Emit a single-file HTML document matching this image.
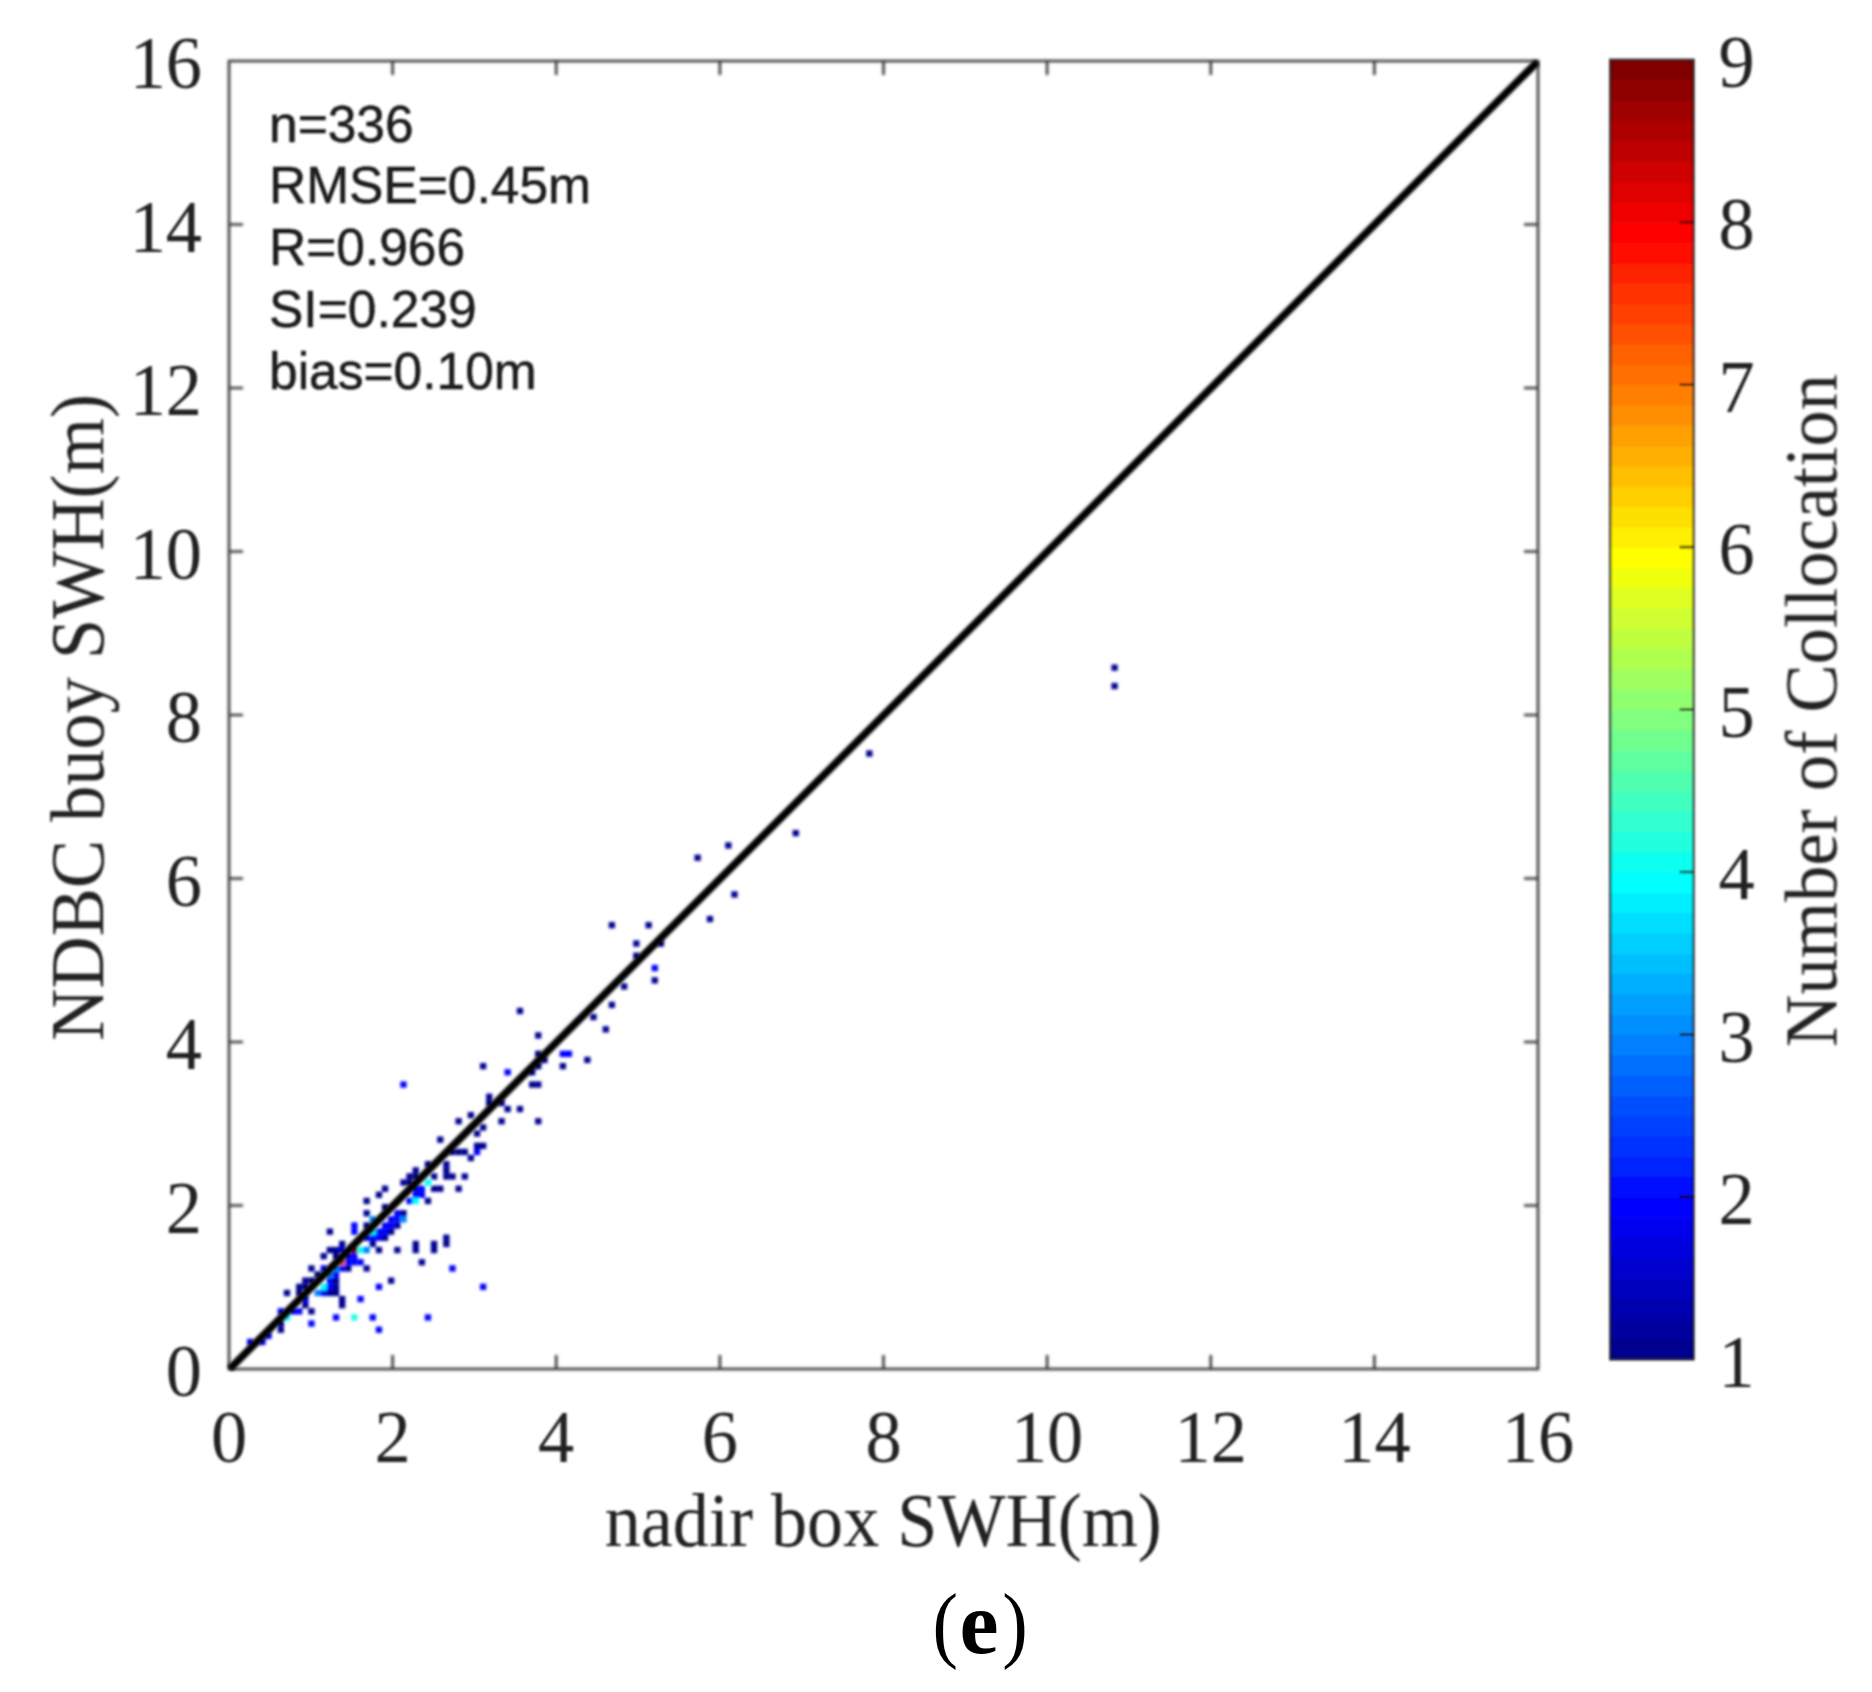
<!DOCTYPE html><html><head><meta charset="utf-8"><title>Figure (e)</title>
<style>html,body{margin:0;padding:0;background:#fff}svg{display:block}.t{font-family:"Liberation Serif","Times New Roman",serif;fill:#222}.s{font-family:"Liberation Sans",Arial,sans-serif;fill:#1a1a1a}</style></head><body>
<svg width="1872" height="1692" viewBox="0 0 1872 1692">
<rect width="1872" height="1692" fill="#fff"/>
<g id="fig">
<g id="pts" filter="url(#pblur)">
<rect x="247.0" y="1338.8" width="6.3" height="6.3" fill="#0000ff"/>
<rect x="259.3" y="1338.8" width="6.3" height="6.3" fill="#0000ff"/>
<rect x="265.4" y="1332.7" width="6.3" height="6.3" fill="#0000ff"/>
<rect x="277.7" y="1326.6" width="6.3" height="6.3" fill="#00008f"/>
<rect x="277.7" y="1320.4" width="6.3" height="6.3" fill="#00008f"/>
<rect x="277.7" y="1308.2" width="6.3" height="6.3" fill="#0000ff"/>
<rect x="283.8" y="1314.3" width="6.3" height="6.3" fill="#00ffff"/>
<rect x="283.8" y="1289.8" width="6.3" height="6.3" fill="#00008f"/>
<rect x="290.0" y="1308.2" width="6.3" height="6.3" fill="#0000ff"/>
<rect x="296.1" y="1308.2" width="6.3" height="6.3" fill="#0000ff"/>
<rect x="296.1" y="1289.8" width="6.3" height="6.3" fill="#00008f"/>
<rect x="296.1" y="1283.7" width="6.3" height="6.3" fill="#00008f"/>
<rect x="302.2" y="1302.0" width="6.3" height="6.3" fill="#00008f"/>
<rect x="302.2" y="1295.9" width="6.3" height="6.3" fill="#0000ff"/>
<rect x="302.2" y="1283.7" width="6.3" height="6.3" fill="#00008f"/>
<rect x="302.2" y="1277.5" width="6.3" height="6.3" fill="#00008f"/>
<rect x="308.3" y="1320.4" width="6.3" height="6.3" fill="#0000ff"/>
<rect x="308.3" y="1308.2" width="6.3" height="6.3" fill="#00008f"/>
<rect x="308.3" y="1277.5" width="6.3" height="6.3" fill="#00008f"/>
<rect x="308.3" y="1265.3" width="6.3" height="6.3" fill="#00008f"/>
<rect x="314.5" y="1289.8" width="6.3" height="6.3" fill="#0080ff"/>
<rect x="314.5" y="1271.4" width="6.3" height="6.3" fill="#00008f"/>
<rect x="320.6" y="1289.8" width="6.3" height="6.3" fill="#0000ff"/>
<rect x="320.6" y="1283.7" width="6.3" height="6.3" fill="#00ffff"/>
<rect x="320.6" y="1265.3" width="6.3" height="6.3" fill="#0000ff"/>
<rect x="320.6" y="1253.0" width="6.3" height="6.3" fill="#00008f"/>
<rect x="326.7" y="1289.8" width="6.3" height="6.3" fill="#00008f"/>
<rect x="326.7" y="1283.7" width="6.3" height="6.3" fill="#0000ff"/>
<rect x="326.7" y="1277.5" width="6.3" height="6.3" fill="#0000ff"/>
<rect x="326.7" y="1271.4" width="6.3" height="6.3" fill="#0080ff"/>
<rect x="326.7" y="1246.9" width="6.3" height="6.3" fill="#00008f"/>
<rect x="326.7" y="1228.5" width="6.3" height="6.3" fill="#00008f"/>
<rect x="332.9" y="1314.3" width="6.3" height="6.3" fill="#0000ff"/>
<rect x="332.9" y="1289.8" width="6.3" height="6.3" fill="#00008f"/>
<rect x="332.9" y="1283.7" width="6.3" height="6.3" fill="#00008f"/>
<rect x="332.9" y="1277.5" width="6.3" height="6.3" fill="#00008f"/>
<rect x="332.9" y="1271.4" width="6.3" height="6.3" fill="#0000ff"/>
<rect x="332.9" y="1265.3" width="6.3" height="6.3" fill="#0080ff"/>
<rect x="332.9" y="1253.0" width="6.3" height="6.3" fill="#00008f"/>
<rect x="332.9" y="1246.9" width="6.3" height="6.3" fill="#00008f"/>
<rect x="339.0" y="1302.0" width="6.3" height="6.3" fill="#00008f"/>
<rect x="339.0" y="1295.9" width="6.3" height="6.3" fill="#00008f"/>
<rect x="339.0" y="1265.3" width="6.3" height="6.3" fill="#0000ff"/>
<rect x="339.0" y="1259.1" width="6.3" height="6.3" fill="#e86000"/>
<rect x="339.0" y="1246.9" width="6.3" height="6.3" fill="#0000ff"/>
<rect x="339.0" y="1240.8" width="6.3" height="6.3" fill="#00008f"/>
<rect x="345.1" y="1265.3" width="6.3" height="6.3" fill="#00008f"/>
<rect x="345.1" y="1259.1" width="6.3" height="6.3" fill="#0000ff"/>
<rect x="345.1" y="1253.0" width="6.3" height="6.3" fill="#0000ff"/>
<rect x="351.2" y="1314.3" width="6.3" height="6.3" fill="#20ffdf"/>
<rect x="351.2" y="1259.1" width="6.3" height="6.3" fill="#0000ff"/>
<rect x="351.2" y="1253.0" width="6.3" height="6.3" fill="#0000ff"/>
<rect x="351.2" y="1246.9" width="6.3" height="6.3" fill="#800000"/>
<rect x="351.2" y="1228.5" width="6.3" height="6.3" fill="#0000ff"/>
<rect x="351.2" y="1222.4" width="6.3" height="6.3" fill="#0000ff"/>
<rect x="357.4" y="1295.9" width="6.3" height="6.3" fill="#0000ff"/>
<rect x="357.4" y="1259.1" width="6.3" height="6.3" fill="#0000ff"/>
<rect x="357.4" y="1246.9" width="6.3" height="6.3" fill="#00ffff"/>
<rect x="363.5" y="1265.3" width="6.3" height="6.3" fill="#00008f"/>
<rect x="363.5" y="1246.9" width="6.3" height="6.3" fill="#0080ff"/>
<rect x="363.5" y="1234.6" width="6.3" height="6.3" fill="#0000ff"/>
<rect x="363.5" y="1222.4" width="6.3" height="6.3" fill="#00008f"/>
<rect x="363.5" y="1210.1" width="6.3" height="6.3" fill="#00008f"/>
<rect x="363.5" y="1197.8" width="6.3" height="6.3" fill="#00008f"/>
<rect x="369.6" y="1314.3" width="6.3" height="6.3" fill="#0000ff"/>
<rect x="369.6" y="1240.8" width="6.3" height="6.3" fill="#00008f"/>
<rect x="369.6" y="1234.6" width="6.3" height="6.3" fill="#0000ff"/>
<rect x="369.6" y="1228.5" width="6.3" height="6.3" fill="#00ffff"/>
<rect x="369.6" y="1216.2" width="6.3" height="6.3" fill="#0080ff"/>
<rect x="375.8" y="1326.6" width="6.3" height="6.3" fill="#0000ff"/>
<rect x="375.8" y="1283.7" width="6.3" height="6.3" fill="#0000ff"/>
<rect x="375.8" y="1246.9" width="6.3" height="6.3" fill="#00008f"/>
<rect x="375.8" y="1234.6" width="6.3" height="6.3" fill="#0000ff"/>
<rect x="375.8" y="1228.5" width="6.3" height="6.3" fill="#0000ff"/>
<rect x="375.8" y="1191.7" width="6.3" height="6.3" fill="#00008f"/>
<rect x="381.9" y="1234.6" width="6.3" height="6.3" fill="#00008f"/>
<rect x="381.9" y="1228.5" width="6.3" height="6.3" fill="#0000ff"/>
<rect x="381.9" y="1222.4" width="6.3" height="6.3" fill="#0000ff"/>
<rect x="381.9" y="1204.0" width="6.3" height="6.3" fill="#00008f"/>
<rect x="381.9" y="1185.6" width="6.3" height="6.3" fill="#00008f"/>
<rect x="388.0" y="1277.5" width="6.3" height="6.3" fill="#00008f"/>
<rect x="388.0" y="1228.5" width="6.3" height="6.3" fill="#00008f"/>
<rect x="388.0" y="1222.4" width="6.3" height="6.3" fill="#0000ff"/>
<rect x="388.0" y="1216.2" width="6.3" height="6.3" fill="#0000ff"/>
<rect x="394.2" y="1246.9" width="6.3" height="6.3" fill="#00008f"/>
<rect x="394.2" y="1222.4" width="6.3" height="6.3" fill="#00008f"/>
<rect x="394.2" y="1216.2" width="6.3" height="6.3" fill="#0000ff"/>
<rect x="394.2" y="1210.1" width="6.3" height="6.3" fill="#0000ff"/>
<rect x="400.3" y="1216.2" width="6.3" height="6.3" fill="#0080ff"/>
<rect x="400.3" y="1210.1" width="6.3" height="6.3" fill="#00008f"/>
<rect x="400.3" y="1179.4" width="6.3" height="6.3" fill="#00008f"/>
<rect x="400.3" y="1081.4" width="6.3" height="6.3" fill="#0000ff"/>
<rect x="406.4" y="1197.8" width="6.3" height="6.3" fill="#0000ff"/>
<rect x="406.4" y="1179.4" width="6.3" height="6.3" fill="#00008f"/>
<rect x="406.4" y="1173.3" width="6.3" height="6.3" fill="#00008f"/>
<rect x="412.6" y="1246.9" width="6.3" height="6.3" fill="#00008f"/>
<rect x="412.6" y="1240.8" width="6.3" height="6.3" fill="#00008f"/>
<rect x="412.6" y="1197.8" width="6.3" height="6.3" fill="#00ffff"/>
<rect x="412.6" y="1191.7" width="6.3" height="6.3" fill="#0000ff"/>
<rect x="412.6" y="1185.6" width="6.3" height="6.3" fill="#0000ff"/>
<rect x="412.6" y="1173.3" width="6.3" height="6.3" fill="#00008f"/>
<rect x="412.6" y="1167.2" width="6.3" height="6.3" fill="#00008f"/>
<rect x="418.7" y="1259.1" width="6.3" height="6.3" fill="#00008f"/>
<rect x="418.7" y="1191.7" width="6.3" height="6.3" fill="#0000ff"/>
<rect x="418.7" y="1185.6" width="6.3" height="6.3" fill="#0000ff"/>
<rect x="424.8" y="1314.3" width="6.3" height="6.3" fill="#0000ff"/>
<rect x="424.8" y="1197.8" width="6.3" height="6.3" fill="#00008f"/>
<rect x="424.8" y="1179.4" width="6.3" height="6.3" fill="#00ffff"/>
<rect x="424.8" y="1161.1" width="6.3" height="6.3" fill="#00008f"/>
<rect x="430.9" y="1246.9" width="6.3" height="6.3" fill="#00008f"/>
<rect x="430.9" y="1240.8" width="6.3" height="6.3" fill="#00008f"/>
<rect x="430.9" y="1185.6" width="6.3" height="6.3" fill="#00008f"/>
<rect x="430.9" y="1173.3" width="6.3" height="6.3" fill="#00008f"/>
<rect x="437.1" y="1185.6" width="6.3" height="6.3" fill="#00008f"/>
<rect x="437.1" y="1136.5" width="6.3" height="6.3" fill="#00008f"/>
<rect x="443.2" y="1240.8" width="6.3" height="6.3" fill="#00008f"/>
<rect x="443.2" y="1234.6" width="6.3" height="6.3" fill="#00008f"/>
<rect x="443.2" y="1173.3" width="6.3" height="6.3" fill="#00008f"/>
<rect x="443.2" y="1167.2" width="6.3" height="6.3" fill="#00008f"/>
<rect x="443.2" y="1161.1" width="6.3" height="6.3" fill="#00008f"/>
<rect x="449.3" y="1265.3" width="6.3" height="6.3" fill="#0000ff"/>
<rect x="449.3" y="1173.3" width="6.3" height="6.3" fill="#00008f"/>
<rect x="449.3" y="1148.8" width="6.3" height="6.3" fill="#00008f"/>
<rect x="455.5" y="1185.6" width="6.3" height="6.3" fill="#00008f"/>
<rect x="455.5" y="1148.8" width="6.3" height="6.3" fill="#00008f"/>
<rect x="455.5" y="1118.1" width="6.3" height="6.3" fill="#00008f"/>
<rect x="461.6" y="1173.3" width="6.3" height="6.3" fill="#00008f"/>
<rect x="461.6" y="1148.8" width="6.3" height="6.3" fill="#00008f"/>
<rect x="467.7" y="1154.9" width="6.3" height="6.3" fill="#00008f"/>
<rect x="467.7" y="1112.0" width="6.3" height="6.3" fill="#00008f"/>
<rect x="473.9" y="1148.8" width="6.3" height="6.3" fill="#0000ff"/>
<rect x="473.9" y="1142.7" width="6.3" height="6.3" fill="#00008f"/>
<rect x="473.9" y="1130.4" width="6.3" height="6.3" fill="#00008f"/>
<rect x="480.0" y="1283.7" width="6.3" height="6.3" fill="#0000ff"/>
<rect x="480.0" y="1142.7" width="6.3" height="6.3" fill="#00008f"/>
<rect x="480.0" y="1124.3" width="6.3" height="6.3" fill="#00008f"/>
<rect x="480.0" y="1063.0" width="6.3" height="6.3" fill="#00008f"/>
<rect x="486.1" y="1099.8" width="6.3" height="6.3" fill="#00008f"/>
<rect x="486.1" y="1093.6" width="6.3" height="6.3" fill="#00008f"/>
<rect x="498.4" y="1118.1" width="6.3" height="6.3" fill="#00008f"/>
<rect x="498.4" y="1099.8" width="6.3" height="6.3" fill="#00008f"/>
<rect x="504.5" y="1105.9" width="6.3" height="6.3" fill="#00008f"/>
<rect x="504.5" y="1069.1" width="6.3" height="6.3" fill="#0000ff"/>
<rect x="516.8" y="1105.9" width="6.3" height="6.3" fill="#00008f"/>
<rect x="516.8" y="1007.8" width="6.3" height="6.3" fill="#00008f"/>
<rect x="529.0" y="1081.4" width="6.3" height="6.3" fill="#00008f"/>
<rect x="529.0" y="1069.1" width="6.3" height="6.3" fill="#00008f"/>
<rect x="535.1" y="1118.1" width="6.3" height="6.3" fill="#00008f"/>
<rect x="535.1" y="1081.4" width="6.3" height="6.3" fill="#00008f"/>
<rect x="535.1" y="1063.0" width="6.3" height="6.3" fill="#00008f"/>
<rect x="535.1" y="1050.7" width="6.3" height="6.3" fill="#00008f"/>
<rect x="535.1" y="1032.3" width="6.3" height="6.3" fill="#00008f"/>
<rect x="541.3" y="1056.8" width="6.3" height="6.3" fill="#00008f"/>
<rect x="559.7" y="1063.0" width="6.3" height="6.3" fill="#00008f"/>
<rect x="559.7" y="1050.7" width="6.3" height="6.3" fill="#0000ff"/>
<rect x="565.8" y="1050.7" width="6.3" height="6.3" fill="#0000ff"/>
<rect x="584.2" y="1056.8" width="6.3" height="6.3" fill="#00008f"/>
<rect x="590.3" y="1013.9" width="6.3" height="6.3" fill="#00008f"/>
<rect x="602.6" y="1026.2" width="6.3" height="6.3" fill="#00008f"/>
<rect x="608.7" y="1001.7" width="6.3" height="6.3" fill="#00008f"/>
<rect x="608.7" y="922.0" width="6.3" height="6.3" fill="#00008f"/>
<rect x="621.0" y="983.3" width="6.3" height="6.3" fill="#00008f"/>
<rect x="633.2" y="952.6" width="6.3" height="6.3" fill="#00008f"/>
<rect x="633.2" y="940.4" width="6.3" height="6.3" fill="#00008f"/>
<rect x="645.5" y="922.0" width="6.3" height="6.3" fill="#00008f"/>
<rect x="651.6" y="977.2" width="6.3" height="6.3" fill="#00008f"/>
<rect x="651.6" y="964.9" width="6.3" height="6.3" fill="#0000ff"/>
<rect x="657.8" y="940.4" width="6.3" height="6.3" fill="#00008f"/>
<rect x="694.5" y="854.6" width="6.3" height="6.3" fill="#00008f"/>
<rect x="706.8" y="915.9" width="6.3" height="6.3" fill="#00008f"/>
<rect x="725.2" y="842.3" width="6.3" height="6.3" fill="#00008f"/>
<rect x="731.3" y="891.3" width="6.3" height="6.3" fill="#00008f"/>
<rect x="792.6" y="830.0" width="6.3" height="6.3" fill="#00008f"/>
<rect x="866.2" y="750.4" width="6.3" height="6.3" fill="#00008f"/>
<rect x="1111.4" y="682.9" width="6.3" height="6.3" fill="#00008f"/>
<rect x="1111.4" y="664.5" width="6.3" height="6.3" fill="#00008f"/>
</g>
<g filter="url(#ablur)">
<rect x="229.0" y="61.0" width="1309.0" height="1308.0" fill="none" stroke="#383838" stroke-width="2.6"/>
<path d="M392.6 1369.0v-14M392.6 61.0v14M229.0 1205.5h14M1538.0 1205.5h-14M556.2 1369.0v-14M556.2 61.0v14M229.0 1042.0h14M1538.0 1042.0h-14M719.9 1369.0v-14M719.9 61.0v14M229.0 878.5h14M1538.0 878.5h-14M883.5 1369.0v-14M883.5 61.0v14M229.0 715.0h14M1538.0 715.0h-14M1047.1 1369.0v-14M1047.1 61.0v14M229.0 551.5h14M1538.0 551.5h-14M1210.8 1369.0v-14M1210.8 61.0v14M229.0 388.0h14M1538.0 388.0h-14M1374.4 1369.0v-14M1374.4 61.0v14M229.0 224.5h14M1538.0 224.5h-14" stroke="#383838" stroke-width="2.6" fill="none"/>
</g>
<line x1="232" y1="1366.6" x2="1535" y2="64.2" stroke="#000" stroke-width="7.6" stroke-linecap="round" filter="url(#lblur)"/>
<g filter="url(#soft)">
<text class="t" transform="translate(229.0,1461.6) scale(0.965,1)" font-size="75" text-anchor="middle">0</text>
<text class="t" transform="translate(202,1396.2) scale(0.965,1)" font-size="75" text-anchor="end">0</text>
<text class="t" transform="translate(392.6,1461.6) scale(0.965,1)" font-size="75" text-anchor="middle">2</text>
<text class="t" transform="translate(202,1232.7) scale(0.965,1)" font-size="75" text-anchor="end">2</text>
<text class="t" transform="translate(556.2,1461.6) scale(0.965,1)" font-size="75" text-anchor="middle">4</text>
<text class="t" transform="translate(202,1069.2) scale(0.965,1)" font-size="75" text-anchor="end">4</text>
<text class="t" transform="translate(719.9,1461.6) scale(0.965,1)" font-size="75" text-anchor="middle">6</text>
<text class="t" transform="translate(202,905.7) scale(0.965,1)" font-size="75" text-anchor="end">6</text>
<text class="t" transform="translate(883.5,1461.6) scale(0.965,1)" font-size="75" text-anchor="middle">8</text>
<text class="t" transform="translate(202,742.2) scale(0.965,1)" font-size="75" text-anchor="end">8</text>
<text class="t" transform="translate(1047.1,1461.6) scale(0.965,1)" font-size="75" text-anchor="middle">10</text>
<text class="t" transform="translate(202,578.7) scale(0.965,1)" font-size="75" text-anchor="end">10</text>
<text class="t" transform="translate(1210.8,1461.6) scale(0.965,1)" font-size="75" text-anchor="middle">12</text>
<text class="t" transform="translate(202,415.2) scale(0.965,1)" font-size="75" text-anchor="end">12</text>
<text class="t" transform="translate(1374.4,1461.6) scale(0.965,1)" font-size="75" text-anchor="middle">14</text>
<text class="t" transform="translate(202,251.7) scale(0.965,1)" font-size="75" text-anchor="end">14</text>
<text class="t" transform="translate(1538.0,1461.6) scale(0.965,1)" font-size="75" text-anchor="middle">16</text>
<text class="t" transform="translate(202,88.2) scale(0.965,1)" font-size="75" text-anchor="end">16</text>
</g>
<g filter="url(#cblur)">
<rect x="1610.2" y="1339.00" width="83.39999999999986" height="20.90" fill="#00008f"/>
<rect x="1610.2" y="1318.69" width="83.39999999999986" height="20.90" fill="#00009f"/>
<rect x="1610.2" y="1298.39" width="83.39999999999986" height="20.90" fill="#0000af"/>
<rect x="1610.2" y="1278.08" width="83.39999999999986" height="20.90" fill="#0000bf"/>
<rect x="1610.2" y="1257.78" width="83.39999999999986" height="20.90" fill="#0000cf"/>
<rect x="1610.2" y="1237.47" width="83.39999999999986" height="20.90" fill="#0000df"/>
<rect x="1610.2" y="1217.17" width="83.39999999999986" height="20.90" fill="#0000ef"/>
<rect x="1610.2" y="1196.86" width="83.39999999999986" height="20.90" fill="#0000ff"/>
<rect x="1610.2" y="1176.56" width="83.39999999999986" height="20.90" fill="#0010ff"/>
<rect x="1610.2" y="1156.25" width="83.39999999999986" height="20.90" fill="#0020ff"/>
<rect x="1610.2" y="1135.95" width="83.39999999999986" height="20.90" fill="#0030ff"/>
<rect x="1610.2" y="1115.64" width="83.39999999999986" height="20.90" fill="#0040ff"/>
<rect x="1610.2" y="1095.34" width="83.39999999999986" height="20.90" fill="#0050ff"/>
<rect x="1610.2" y="1075.03" width="83.39999999999986" height="20.90" fill="#0060ff"/>
<rect x="1610.2" y="1054.73" width="83.39999999999986" height="20.90" fill="#0070ff"/>
<rect x="1610.2" y="1034.42" width="83.39999999999986" height="20.90" fill="#0080ff"/>
<rect x="1610.2" y="1014.12" width="83.39999999999986" height="20.90" fill="#008fff"/>
<rect x="1610.2" y="993.82" width="83.39999999999986" height="20.90" fill="#009fff"/>
<rect x="1610.2" y="973.51" width="83.39999999999986" height="20.90" fill="#00afff"/>
<rect x="1610.2" y="953.21" width="83.39999999999986" height="20.90" fill="#00bfff"/>
<rect x="1610.2" y="932.90" width="83.39999999999986" height="20.90" fill="#00cfff"/>
<rect x="1610.2" y="912.60" width="83.39999999999986" height="20.90" fill="#00dfff"/>
<rect x="1610.2" y="892.29" width="83.39999999999986" height="20.90" fill="#00efff"/>
<rect x="1610.2" y="871.99" width="83.39999999999986" height="20.90" fill="#00ffff"/>
<rect x="1610.2" y="851.68" width="83.39999999999986" height="20.90" fill="#10ffef"/>
<rect x="1610.2" y="831.38" width="83.39999999999986" height="20.90" fill="#20ffdf"/>
<rect x="1610.2" y="811.07" width="83.39999999999986" height="20.90" fill="#30ffcf"/>
<rect x="1610.2" y="790.77" width="83.39999999999986" height="20.90" fill="#40ffbf"/>
<rect x="1610.2" y="770.46" width="83.39999999999986" height="20.90" fill="#50ffaf"/>
<rect x="1610.2" y="750.16" width="83.39999999999986" height="20.90" fill="#60ff9f"/>
<rect x="1610.2" y="729.85" width="83.39999999999986" height="20.90" fill="#70ff8f"/>
<rect x="1610.2" y="709.55" width="83.39999999999986" height="20.90" fill="#80ff80"/>
<rect x="1610.2" y="689.25" width="83.39999999999986" height="20.90" fill="#8fff70"/>
<rect x="1610.2" y="668.94" width="83.39999999999986" height="20.90" fill="#9fff60"/>
<rect x="1610.2" y="648.64" width="83.39999999999986" height="20.90" fill="#afff50"/>
<rect x="1610.2" y="628.33" width="83.39999999999986" height="20.90" fill="#bfff40"/>
<rect x="1610.2" y="608.03" width="83.39999999999986" height="20.90" fill="#cfff30"/>
<rect x="1610.2" y="587.72" width="83.39999999999986" height="20.90" fill="#dfff20"/>
<rect x="1610.2" y="567.42" width="83.39999999999986" height="20.90" fill="#efff10"/>
<rect x="1610.2" y="547.11" width="83.39999999999986" height="20.90" fill="#ffff00"/>
<rect x="1610.2" y="526.81" width="83.39999999999986" height="20.90" fill="#ffef00"/>
<rect x="1610.2" y="506.50" width="83.39999999999986" height="20.90" fill="#ffdf00"/>
<rect x="1610.2" y="486.20" width="83.39999999999986" height="20.90" fill="#ffcf00"/>
<rect x="1610.2" y="465.89" width="83.39999999999986" height="20.90" fill="#ffbf00"/>
<rect x="1610.2" y="445.59" width="83.39999999999986" height="20.90" fill="#ffaf00"/>
<rect x="1610.2" y="425.28" width="83.39999999999986" height="20.90" fill="#ff9f00"/>
<rect x="1610.2" y="404.98" width="83.39999999999986" height="20.90" fill="#ff8f00"/>
<rect x="1610.2" y="384.67" width="83.39999999999986" height="20.90" fill="#ff8000"/>
<rect x="1610.2" y="364.37" width="83.39999999999986" height="20.90" fill="#ff7000"/>
<rect x="1610.2" y="344.07" width="83.39999999999986" height="20.90" fill="#ff6000"/>
<rect x="1610.2" y="323.76" width="83.39999999999986" height="20.90" fill="#ff5000"/>
<rect x="1610.2" y="303.46" width="83.39999999999986" height="20.90" fill="#ff4000"/>
<rect x="1610.2" y="283.15" width="83.39999999999986" height="20.90" fill="#ff3000"/>
<rect x="1610.2" y="262.85" width="83.39999999999986" height="20.90" fill="#ff2000"/>
<rect x="1610.2" y="242.54" width="83.39999999999986" height="20.90" fill="#ff1000"/>
<rect x="1610.2" y="222.24" width="83.39999999999986" height="20.90" fill="#ff0000"/>
<rect x="1610.2" y="201.93" width="83.39999999999986" height="20.90" fill="#ef0000"/>
<rect x="1610.2" y="181.63" width="83.39999999999986" height="20.90" fill="#df0000"/>
<rect x="1610.2" y="161.32" width="83.39999999999986" height="20.90" fill="#cf0000"/>
<rect x="1610.2" y="141.02" width="83.39999999999986" height="20.90" fill="#bf0000"/>
<rect x="1610.2" y="120.71" width="83.39999999999986" height="20.90" fill="#af0000"/>
<rect x="1610.2" y="100.41" width="83.39999999999986" height="20.90" fill="#9f0000"/>
<rect x="1610.2" y="80.10" width="83.39999999999986" height="20.90" fill="#8f0000"/>
<rect x="1610.2" y="59.80" width="83.39999999999986" height="20.90" fill="#800000"/>
<rect x="1610.2" y="59.8" width="83.39999999999986" height="1299.5" fill="none" stroke="#1c1c1c" stroke-opacity="0.85" stroke-width="2.4"/>
<path d="M1693.6 1196.9h-14M1693.6 1034.4h-14M1693.6 872.0h-14M1693.6 709.5h-14M1693.6 547.1h-14M1693.6 384.7h-14M1693.6 222.2h-14" stroke="#1a0000" stroke-opacity="0.72" stroke-width="2.6" fill="none"/>
<text class="t" transform="translate(1718.5,1386.5) scale(0.965,1)" font-size="75">1</text>
<text class="t" transform="translate(1718.5,1224.1) scale(0.965,1)" font-size="75">2</text>
<text class="t" transform="translate(1718.5,1061.6) scale(0.965,1)" font-size="75">3</text>
<text class="t" transform="translate(1718.5,899.2) scale(0.965,1)" font-size="75">4</text>
<text class="t" transform="translate(1718.5,736.8) scale(0.965,1)" font-size="75">5</text>
<text class="t" transform="translate(1718.5,574.3) scale(0.965,1)" font-size="75">6</text>
<text class="t" transform="translate(1718.5,411.9) scale(0.965,1)" font-size="75">7</text>
<text class="t" transform="translate(1718.5,249.4) scale(0.965,1)" font-size="75">8</text>
<text class="t" transform="translate(1718.5,87.0) scale(0.965,1)" font-size="75">9</text>
</g>
<g filter="url(#soft)">
<text class="t" transform="translate(883.3,1545.5) scale(0.956,1)" font-size="75.5" text-anchor="middle">nadir box SWH(m)</text>
<text class="t" transform="translate(103.2,717.4) rotate(-90) scale(0.954,1)" font-size="75.8" text-anchor="middle">NDBC buoy SWH(m)</text>
<text class="t" transform="translate(1836.5,710.6) rotate(-90) scale(0.974,1)" font-size="74.5" text-anchor="middle">Number of Collocation</text>
<text class="s" x="269" y="141.6" font-size="51.5" stroke="#1a1a1a" stroke-width="0.5">n=336</text>
<text class="s" x="269" y="203.4" font-size="51.5" stroke="#1a1a1a" stroke-width="0.5">RMSE=0.45m</text>
<text class="s" x="269" y="265.2" font-size="51.5" stroke="#1a1a1a" stroke-width="0.5">R=0.966</text>
<text class="s" x="269" y="327.0" font-size="51.5" stroke="#1a1a1a" stroke-width="0.5">SI=0.239</text>
<text class="s" x="269" y="388.8" font-size="51.5" stroke="#1a1a1a" stroke-width="0.5">bias=0.10m</text>
</g>
</g>
<text y="1652" font-size="85" font-family="'Liberation Serif',serif" fill="#000"><tspan x="932.6" textLength="25.5" lengthAdjust="spacingAndGlyphs">(</tspan><tspan x="959.6" dy="0.6" font-size="88" font-weight="bold">e</tspan><tspan x="1002.2" dy="-0.6" textLength="25.5" lengthAdjust="spacingAndGlyphs">)</tspan></text>
<defs><filter id="soft" x="0" y="0" width="100%" height="100%" filterUnits="userSpaceOnUse"><feGaussianBlur stdDeviation="0.9"/></filter><filter id="ablur" x="0" y="0" width="1872" height="1692" filterUnits="userSpaceOnUse"><feGaussianBlur stdDeviation="1.4"/></filter><filter id="cblur" x="1580" y="30" width="292" height="1380" filterUnits="userSpaceOnUse"><feGaussianBlur stdDeviation="0.9"/></filter><filter id="lblur" x="200" y="40" width="1360" height="1350" filterUnits="userSpaceOnUse"><feGaussianBlur stdDeviation="1.4"/></filter><filter id="pblur" x="200" y="40" width="1360" height="1350" filterUnits="userSpaceOnUse"><feGaussianBlur stdDeviation="1.4"/></filter></defs>
</svg></body></html>
